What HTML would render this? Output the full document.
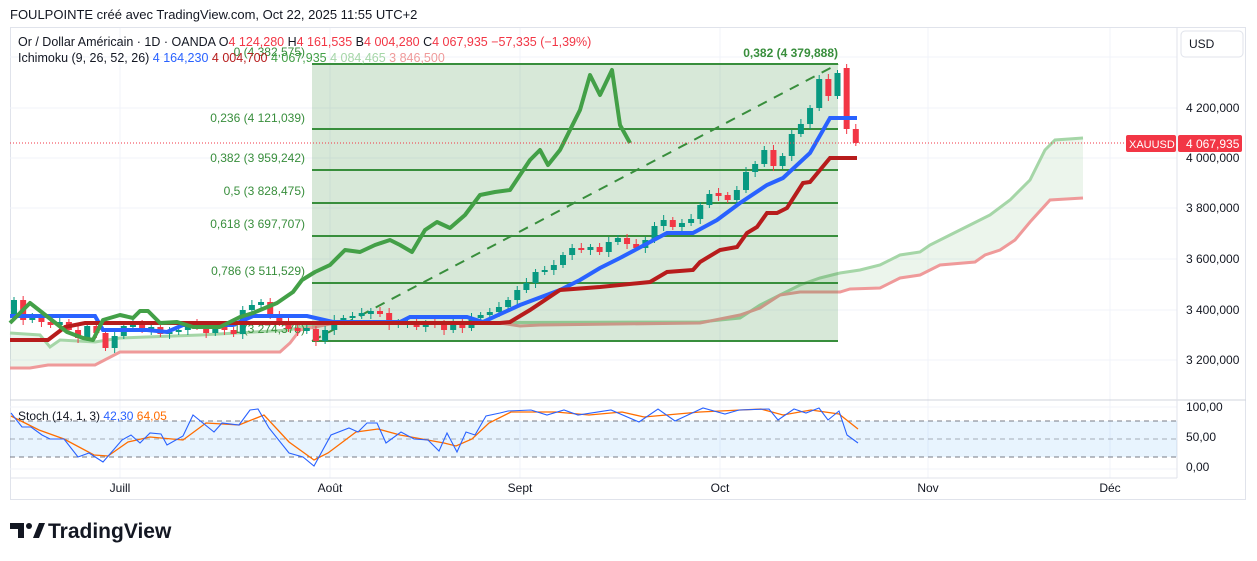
<!DOCTYPE html>
<html><head><meta charset="utf-8">
<style>
body{margin:0;width:1257px;height:561px;background:#fff;overflow:hidden;font-family:"Liberation Sans",sans-serif;}
svg{position:absolute;left:0;top:0}
</style></head><body>
<svg id="s" width="1257" height="561" xmlns="http://www.w3.org/2000/svg" font-family="Liberation Sans, sans-serif">
<text x="10" y="19" font-size="13" fill="#131722">FOULPOINTE créé avec TradingView.com, Oct 22, 2025 11:55 UTC+2</text>
<rect x="10.5" y="27.5" width="1235" height="472" fill="none" stroke="#e0e3eb"/>
<g stroke="#f0f3fa" stroke-width="1">
<line x1="120" y1="28" x2="120" y2="478"/><line x1="330" y1="28" x2="330" y2="478"/><line x1="520" y1="28" x2="520" y2="478"/><line x1="720" y1="28" x2="720" y2="478"/><line x1="928" y1="28" x2="928" y2="478"/><line x1="1110" y1="28" x2="1110" y2="478"/>
<line x1="10" y1="57" x2="1177" y2="57"/><line x1="10" y1="108" x2="1177" y2="108"/><line x1="10" y1="158" x2="1177" y2="158"/><line x1="10" y1="208" x2="1177" y2="208"/><line x1="10" y1="259" x2="1177" y2="259"/><line x1="10" y1="310" x2="1177" y2="310"/><line x1="10" y1="360" x2="1177" y2="360"/>
<line x1="10" y1="407" x2="1177" y2="407"/><line x1="10" y1="469" x2="1177" y2="469"/>
</g>
<line x1="10" y1="400" x2="1246" y2="400" stroke="#d1d4dc"/>
<line x1="1177" y1="28" x2="1177" y2="478" stroke="#e0e3eb"/>
<polygon fill="rgba(67,160,71,0.1)" points="10,333 40,335 50,347 60,340 95,342 120,338 200,335 290,330 300,327 330,323 700,322 740,318 760,305 780,295 800,285 820,278 840,273 860,270 880,265 900,255 920,252 930,245 950,235 970,225 990,215 1010,200 1030,180 1045,150 1055,140 1083,138 1083,198 1050,200 1030,222 1015,240 1000,250 985,255 975,262 940,265 920,275 900,278 880,288 850,289 840,292 800,292 780,295 760,308 740,315 700,323 540,325 520,326 500,323 335,323 320,326 300,330 290,343 280,352 120,352 95,365 48,365 30,368 10,368"/>
<polyline fill="none" stroke="#a5d6a7" stroke-width="3" points="10,333 40,335 50,347 60,340 95,342 120,338 200,335 290,330 300,327 330,323 700,322 740,318 760,305 780,295 800,285 820,278 840,273 860,270 880,265 900,255 920,252 930,245 950,235 970,225 990,215 1010,200 1030,180 1045,150 1055,140 1083,138"/>
<polyline fill="none" stroke="#ef9a9a" stroke-width="3" points="10,368 30,368 48,365 95,365 120,352 280,352 290,343 300,330 320,326 335,323 500,323 520,326 540,325 700,323 740,315 760,308 780,295 800,292 840,292 850,289 880,288 900,278 920,275 940,265 975,262 985,255 1000,250 1015,240 1030,222 1050,200 1083,198"/>
<rect x="312" y="64" width="526" height="277" fill="rgba(56,142,60,0.2)"/>
<g stroke="#388e3c" stroke-width="2">
<line x1="312" y1="64" x2="838" y2="64"/><line x1="312" y1="129" x2="838" y2="129"/><line x1="312" y1="170" x2="838" y2="170"/><line x1="312" y1="203" x2="838" y2="203"/><line x1="312" y1="236" x2="838" y2="236"/><line x1="312" y1="283" x2="838" y2="283"/><line x1="312" y1="341" x2="838" y2="341"/>
</g>
<line x1="312" y1="341" x2="838" y2="64" stroke="#388e3c" stroke-width="2" stroke-dasharray="10,8"/>
<g font-size="12" fill="#388e3c" text-anchor="end">
<text x="305" y="56">0 (4 382,575)</text>
<text x="305" y="122">0,236 (4 121,039)</text>
<text x="305" y="162">0,382 (3 959,242)</text>
<text x="305" y="195">0,5 (3 828,475)</text>
<text x="305" y="228">0,618 (3 697,707)</text>
<text x="305" y="275">0,786 (3 511,529)</text>
<text x="305" y="333">1 (3 274,375)</text>
<text x="838" y="57" font-weight="bold">0,382 (4 379,888)</text>
</g>
<g id="candles"></g>
<polyline fill="none" stroke="#2962ff" stroke-width="4" points="10,316 95,316 103,330 147,330 167,332 183,325 233,325 253,316 307,316 333,322 400,322 410,317 467,317 483,322 520,305 560,290 580,280 600,268 620,258 667,233 693,233 717,220 740,203 767,185 783,178 810,153 830,118 857,118"/>
<polyline fill="none" stroke="#b71c1c" stroke-width="4" points="10,340 48,340 65,327 85,323 500,323 510,322 530,310 560,290 600,287 650,282 667,272 693,270 700,262 720,250 737,247 747,233 757,227 767,213 777,213 787,208 803,183 810,182 830,158 857,158"/>
<polyline fill="none" stroke="#43a047" stroke-width="4" stroke-linejoin="round" points="10,323 30,303 67,332 83,338 93,340 103,320 120,315 133,318 140,311 148,311 160,323 177,322 193,327 220,327 240,317 253,313 277,303 293,292 302,280 315,272 330,265 345,250 360,252 375,245 390,240 400,245 412,252 425,230 437,222 450,228 465,215 480,195 495,192 510,190 520,175 530,160 540,150 548,165 560,150 570,130 580,110 590,75 600,95 612,70 620,125 630,143"/>
<line x1="10" y1="143" x2="1125" y2="143" stroke="#f23645" stroke-dasharray="1,2"/>
<text x="18" y="46" font-size="12.5" fill="#131722">Or / Dollar Américain · 1D · OANDA <tspan>O</tspan><tspan fill="#f23645">4 124,280</tspan> H<tspan fill="#f23645">4 161,535</tspan> B<tspan fill="#f23645">4 004,280</tspan> C<tspan fill="#f23645">4 067,935 −57,335 (−1,39%)</tspan></text>
<text x="18" y="62" font-size="12.5" fill="#131722">Ichimoku (9, 26, 52, 26) <tspan fill="#2962ff">4 164,230</tspan> <tspan fill="#b71c1c">4 004,700</tspan> <tspan fill="#43a047">4 067,935</tspan> <tspan fill="#a5d6a7">4 084,465</tspan> <tspan fill="#ef9a9a">3 846,500</tspan></text>
<rect x="1181" y="31" width="62" height="26" rx="4" fill="#fff" stroke="#e0e3eb"/>
<text x="1189" y="48" font-size="12" fill="#131722">USD</text>
<g font-size="12" fill="#131722">
<text x="1186" y="112">4 200,000</text><text x="1186" y="162">4 000,000</text><text x="1186" y="212">3 800,000</text><text x="1186" y="263">3 600,000</text><text x="1186" y="314">3 400,000</text><text x="1186" y="364">3 200,000</text>
<text x="1186" y="411">100,00</text><text x="1186" y="441">50,00</text><text x="1186" y="471">0,00</text>
</g>
<rect x="1126" y="135" width="50" height="17" rx="2" fill="#f23645"/>
<text x="1129" y="148" font-size="11" fill="#fff">XAUUSD</text>
<rect x="1178" y="135" width="64" height="17" rx="2" fill="#f23645"/>
<text x="1186" y="148" font-size="12" fill="#fff">4 067,935</text>
<rect x="10" y="421" width="1167" height="36" fill="rgba(33,150,243,0.1)"/>
<g stroke="#787b86" stroke-dasharray="5,4"><line x1="10" y1="421" x2="1177" y2="421"/><line x1="10" y1="439" x2="1177" y2="439" stroke-opacity="0.6"/><line x1="10" y1="457" x2="1177" y2="457"/></g>
<polyline fill="none" stroke="#ff6d00" stroke-width="1.3" points="11,416 39,430 64,439 94,455 108,456 128,442 150,437 183,440 206,423 239,425 264,415 289,442 314,460 328,453 356,432 378,429 400,435 444,443 456,446 472,439 489,423 511,412 556,412 589,415 622,412 644,417 700,412 761,409 783,415 811,410 839,414 858,429"/>
<polyline fill="none" stroke="#2962ff" stroke-width="1.1" points="11,413 22,427 31,427 42,435 50,439 64,439 78,457 89,453 103,462 122,440 131,435 140,443 150,433 161,434 167,445 183,436 193,415 214,432 222,423 239,425 250,410 258,409 269,428 289,453 303,457 314,466 331,435 349,428 358,432 367,423 377,423 386,443 401,432 414,439 428,440 439,451 447,433 457,452 466,432 475,435 486,416 500,413 508,411 531,410 547,415 564,410 578,415 611,410 639,422 658,409 675,421 703,408 725,414 739,410 769,409 778,420 794,409 806,413 819,408 828,420 839,411 847,435 858,443"/>
<text x="18" y="420" font-size="12" fill="#131722">Stoch (14, 1, 3) <tspan fill="#2962ff">42,30</tspan> <tspan fill="#ff6d00">64,05</tspan></text>
<line x1="10" y1="478" x2="1177" y2="478" stroke="#e0e3eb"/>
<g font-size="12" fill="#131722" text-anchor="middle">
<text x="120" y="492">Juill</text><text x="330" y="492">Août</text><text x="520" y="492">Sept</text><text x="720" y="492">Oct</text><text x="928" y="492">Nov</text><text x="1110" y="492">Déc</text>
</g>
<path d="M10 523h14v15h-6v-9h-8z" fill="#131722"/><circle cx="29" cy="526" r="3" fill="#131722"/><path d="M33 538l6-15h6l-6 15z" fill="#131722"/>
<text x="48" y="538" font-size="21" font-weight="bold" fill="#131722">TradingView</text>
</svg>
<script>
var c=[300,320,318,322,325,322,330,338,326,333,348,336,326,325,330,327,334,332,330,325,326,333,327,330,334,310,305,302,316,321,329,330,329,341,330,320,318,316,313,312,313,325,322,322,327,323,325,330,322,328,318,315,312,307,300,290,283,272,270,265,255,248,250,247,252,242,238,244,248,240,226,220,227,223,219,205,194,195,200,190,172,164,150,166,156,134,124,108,79,96,73,129,143];
var o=315,h='';
for(var i=0;i<c.length;i++){var x=14+9.15*i,cl=c[i];if(i==91)o=68;var col=cl<o?'#089981':(cl>o?'#f23645':'#089981');
var t=Math.min(o,cl),b=Math.max(o,cl);if(b-t<2){t-=1;b+=1;}
var hi=t-(i==91?4:3+(i%3)),lo=b+3+(i%2)*2;
h+='<line x1="'+x+'" y1="'+hi+'" x2="'+x+'" y2="'+lo+'" stroke="'+col+'"/><rect x="'+(x-3)+'" y="'+t+'" width="6" height="'+(b-t)+'" fill="'+col+'"/>';o=cl;}
document.getElementById('candles').innerHTML=h;
</script>
</body></html>
